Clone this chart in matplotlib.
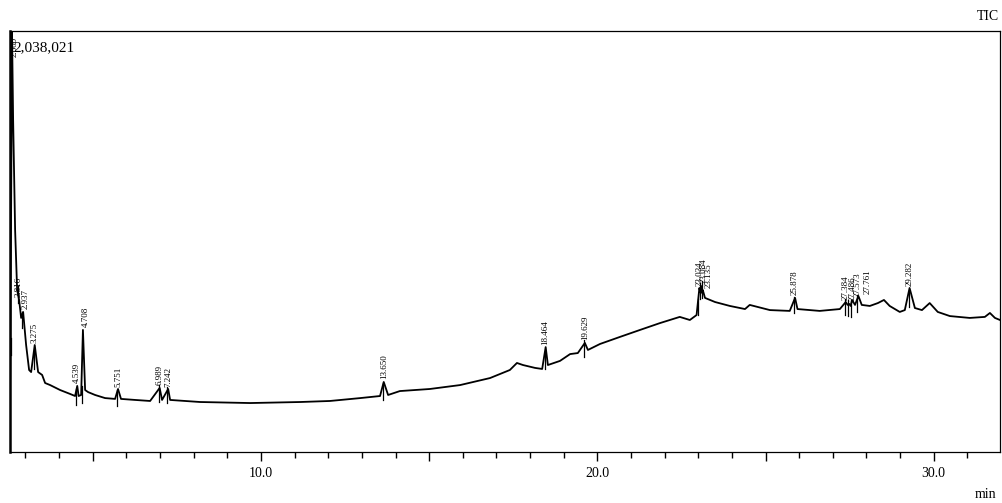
"""TIC chromatogram redrawn from a GC-MS report screenshot."""
import numpy as np
import matplotlib
matplotlib.use("Agg")
import matplotlib.pyplot as plt
import matplotlib.ticker as ticker

plt.rcParams["font.family"] = ["Liberation Serif", "DejaVu Serif"]

MAX_COUNTS = 2038021

# trace: retention time (min) and intensity (counts)
trace_t = [2.544, 2.574, 2.600, 2.633, 2.692, 2.752, 2.811, 2.871, 2.930,
           3.019, 3.108, 3.168, 3.275, 3.376, 3.495, 3.584, 3.733, 4.030,
           4.327, 4.475, 4.539, 4.580, 4.655, 4.708, 4.773, 4.862, 5.070,
           5.367, 5.664, 5.751, 5.840, 6.259, 6.705, 6.989, 7.060, 7.242,
           7.300, 8.190, 9.680, 11.17, 12.05, 12.95, 13.54, 13.650, 13.78,
           14.13, 15.02, 15.92, 16.81, 17.40, 17.61, 17.79, 18.15, 18.36,
           18.464, 18.53, 18.89, 19.19, 19.42, 19.629, 19.72, 20.08, 20.67,
           21.27, 21.86, 22.45, 22.75, 22.95, 23.034, 23.06, 23.084, 23.11,
           23.135, 23.20, 23.50, 23.94, 24.24, 24.39, 24.53, 25.13, 25.72,
           25.878, 25.95, 26.61, 27.21, 27.384, 27.44, 27.486, 27.53, 27.573,
           27.66, 27.761, 27.86, 28.10, 28.34, 28.52, 28.69, 28.99, 29.14,
           29.282, 29.44, 29.65, 29.88, 30.12, 30.48, 31.07, 31.52, 31.67,
           31.82, 31.97]
trace_i = [358000, 1200000, 2038021, 1607000, 1075000, 784000, 736000, 649000, 678000,
           518000, 397000, 387000, 518000, 387000, 373000, 334000, 324000, 300000,
           281000, 271000, 320000, 271000, 276000, 591000, 300000, 290000, 276000,
           261000, 257000, 305000, 257000, 252000, 247000, 310000, 252000, 305000,
           252000, 242000, 237000, 242000, 247000, 261000, 271000, 339000, 276000,
           295000, 305000, 324000, 358000, 397000, 431000, 421000, 407000, 402000,
           508000, 421000, 441000, 474000, 479000, 528000, 494000, 523000, 557000,
           591000, 624000, 654000, 639000, 663000, 794000, 775000, 804000, 770000,
           784000, 746000, 726000, 707000, 697000, 692000, 712000, 687000, 683000,
           746000, 692000, 683000, 692000, 726000, 712000, 717000, 707000, 736000,
           712000, 755000, 712000, 707000, 721000, 736000, 707000, 678000, 687000,
           794000, 697000, 687000, 721000, 678000, 658000, 649000, 654000, 673000,
           649000, 639000]

# labelled peaks
peak_t = [2.600, 2.811, 2.930, 3.275, 4.539, 4.708, 5.751, 6.989, 7.242,
          13.650, 18.464, 19.629, 23.034, 23.084, 23.135, 25.878,
          27.384, 27.486, 27.573, 27.761, 29.282]
peak_lbl = ["2.600", "2.816", "2.937", "3.275", "4.539", "4.708", "5.751", "6.989",
            "7.242", "13.650", "18.464", "19.629", "23.034", "23.084", "23.135",
            "25.878", "27.384", "27.486", "27.573", "27.761", "29.282"]

fig = plt.figure(figsize=(10.03, 5.03), dpi=100)
ax = fig.add_axes([10 / 1003, 1 - 452 / 503, 990 / 1003, 421 / 503])

ax.plot(trace_t, trace_i, color="black", linewidth=1.3, solid_joinstyle="round")

prev_t = -10
shift = 0.0
for t, lbl in zip(peak_t, peak_lbl):
    y = np.interp(t, trace_t, trace_i)
    base = np.interp(t - 0.05, trace_t, trace_i)
    ax.plot([t - 0.03, t - 0.03], [base - 55000, base + 25000],
            color="black", linewidth=0.9)
    # nudge labels of crowded peaks apart a little
    shift = shift + 0.09 if t - prev_t < 0.2 else 0.0
    prev_t = t
    if y > 0.95 * MAX_COUNTS:
        ax.text(t + 0.09, MAX_COUNTS * 0.985, lbl, rotation=90, fontsize=6.5,
                ha="center", va="top")
    else:
        ax.text(t + shift, y + 12000, lbl, rotation=90, fontsize=6.5,
                ha="center", va="bottom")

ax.text(2.64, MAX_COUNTS * 0.975, f"{MAX_COUNTS:,}", fontsize=11,
        ha="left", va="top")

ax.set_xlim(2.54, 31.97)
ax.set_ylim(0, MAX_COUNTS)
ax.set_yticks([])
ax.xaxis.set_major_locator(ticker.MultipleLocator(5))
ax.xaxis.set_minor_locator(ticker.MultipleLocator(1))
ax.xaxis.set_major_formatter(
    ticker.FuncFormatter(lambda v, _: f"{v:.1f}" if v % 10 == 0 else ""))
ax.tick_params(axis="x", which="major", direction="out", length=6.5, width=1,
               labelsize=10, pad=4)
ax.tick_params(axis="x", which="minor", direction="out", length=4, width=1)
for side in ("top", "right", "bottom"):
    ax.spines[side].set_linewidth(0.9)
ax.spines["left"].set_linewidth(1.8)

fig.text(0.985, 0.955, "TIC", fontsize=10, ha="center", va="bottom")
fig.text(0.983, 0.004, "min", fontsize=10, ha="center", va="bottom")

fig.savefig("out.png", dpi=100)
